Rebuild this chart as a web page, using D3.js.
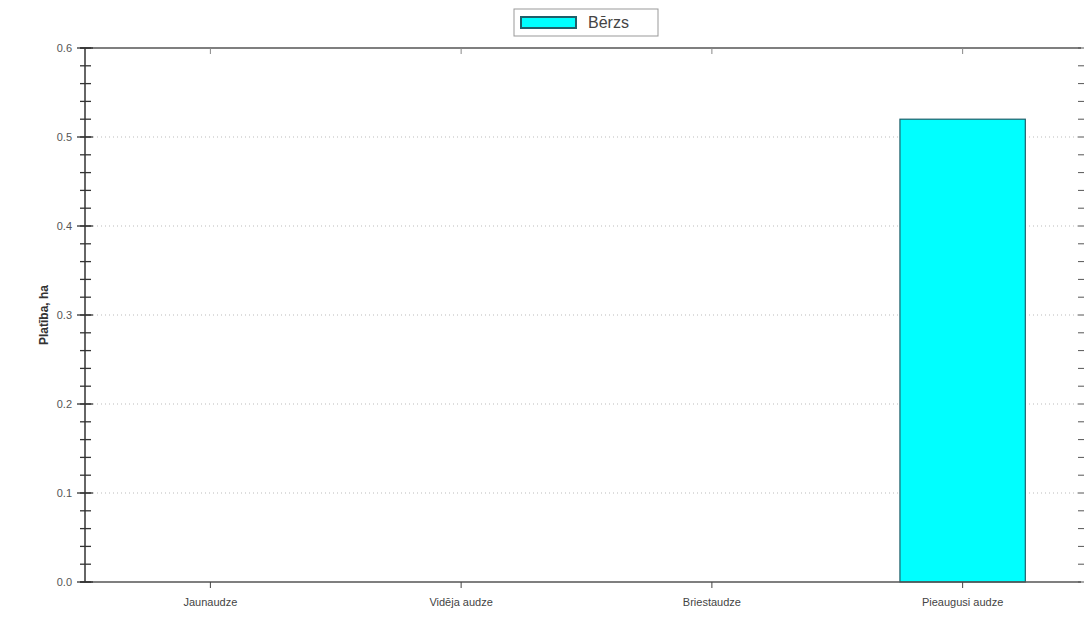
<!DOCTYPE html>
<html>
<head>
<meta charset="utf-8">
<script src="https://cdn.jsdelivr.net/npm/d3@7"></script>
<style>
  body { margin: 0; background: #fff; }
  text { font-family: Arial, 'Liberation Sans', sans-serif; }
</style>
</head>
<body>
<div class="graph"><svg></svg></div>
<script>
const categories = ['Jaunaudze', 'Vidēja audze', 'Briestaudze', 'Pieaugusi audze']
const seriesName = 'Bērzs'
const values = [0, 0, 0, 0.52]
const yTicks = [0, 0.1, 0.2, 0.3, 0.4, 0.5, 0.6]

const width = 1084
const height = 619
const margin = { left: 85, top: 48, right: 3, bottom: 37 }
const innerW = width - margin.left - margin.right
const innerH = height - margin.top - margin.bottom

const svg = d3.select('.graph').select('svg')
  .attr('width', width)
  .attr('height', height)

const g = svg.append('g')
  .attr('transform', 'translate(' + margin.left + ',' + margin.top + ')')

const x = d3.scaleBand().domain(categories).range([0, 1003]).paddingInner(0.5).paddingOuter(0.25)
const y = d3.scaleLinear().domain([0, 0.6]).range([innerH, 0])
const minor = d3.range(0, 0.6001, 0.02)

// grid lines
g.append('g').selectAll('line')
  .data(yTicks.filter(d => d > 0 && d < 0.6))
  .join('line')
  .attr('x1', 0).attr('x2', innerW)
  .attr('y1', d => y(d)).attr('y2', d => y(d))
  .attr('stroke', '#bbb')
  .attr('stroke-dasharray', '1,3')

// bars
g.append('g').selectAll('rect')
  .data(values.map((v, i) => ({ c: categories[i], v })).filter(d => d.v > 0))
  .join('rect')
  .attr('x', d => x(d.c))
  .attr('width', x.bandwidth())
  .attr('y', d => y(d.v))
  .attr('height', d => innerH - y(d.v))
  .attr('fill', '#00ffff')
  .attr('stroke', '#1f5f6a')
  .attr('stroke-width', 1.2)

// frame
g.append('line').attr('x1', -5).attr('x2', innerW).attr('y1', 0).attr('y2', 0).attr('stroke', '#555').attr('stroke-width', 1.5)
g.append('line').attr('x1', -5).attr('x2', innerW).attr('y1', innerH).attr('y2', innerH).attr('stroke', '#555').attr('stroke-width', 1.5)
g.append('line').attr('x1', 0).attr('x2', 0).attr('y1', 0).attr('y2', innerH).attr('stroke', '#333').attr('stroke-width', 1.5)

// left axis ticks
g.append('g').selectAll('line')
  .data(minor)
  .join('line')
  .attr('x1', -5).attr('x2', 6)
  .attr('y1', d => y(d)).attr('y2', d => y(d))
  .attr('stroke', '#333').attr('stroke-width', 1.3)

g.append('g').selectAll('line')
  .data(yTicks)
  .join('line')
  .attr('x1', -8).attr('x2', 8)
  .attr('y1', d => y(d)).attr('y2', d => y(d))
  .attr('stroke', '#333').attr('stroke-width', 1.3)

g.append('g').selectAll('text')
  .data(yTicks)
  .join('text')
  .attr('x', -13)
  .attr('y', d => y(d) + 4)
  .attr('text-anchor', 'end')
  .attr('font-size', 11)
  .attr('fill', '#555')
  .text(d3.format('.1f'))

// right axis ticks
g.append('g').selectAll('line')
  .data(minor)
  .join('line')
  .attr('x1', innerW - 3).attr('x2', innerW + 3)
  .attr('y1', d => y(d)).attr('y2', d => y(d))
  .attr('stroke', '#555')

// x ticks
g.append('g').selectAll('line')
  .data(categories)
  .join('line')
  .attr('x1', d => x(d) + x.bandwidth() / 2).attr('x2', d => x(d) + x.bandwidth() / 2)
  .attr('y1', innerH).attr('y2', innerH + 6)
  .attr('stroke', '#444')

g.append('g').selectAll('line')
  .data(categories)
  .join('line')
  .attr('x1', d => x(d) + x.bandwidth() / 2).attr('x2', d => x(d) + x.bandwidth() / 2)
  .attr('y1', 0).attr('y2', 6)
  .attr('stroke', '#888')

g.append('g').selectAll('text')
  .data(categories)
  .join('text')
  .attr('x', d => x(d) + x.bandwidth() / 2)
  .attr('y', innerH + 24)
  .attr('text-anchor', 'middle')
  .attr('font-size', 11)
  .attr('fill', '#444')
  .text(d => d)

// y label
svg.append('text')
  .attr('transform', 'translate(48,' + (margin.top + innerH / 2) + ') rotate(-90)')
  .attr('text-anchor', 'middle')
  .attr('font-size', 12)
  .attr('font-weight', 'bold')
  .attr('fill', '#333')
  .text('Platība, ha')

// legend
const lg = svg.append('g').attr('transform', 'translate(514,9)')
lg.append('rect').attr('width', 144).attr('height', 27).attr('fill', '#fff').attr('stroke', '#999')
lg.append('rect').attr('x', 7).attr('y', 8).attr('width', 55).attr('height', 11)
  .attr('fill', '#00ffff').attr('stroke', '#1f5f6a').attr('stroke-width', 2)
lg.append('text').attr('x', 74).attr('y', 19).attr('font-size', 16).attr('fill', '#444').text(seriesName)
</script>
</body>
</html>
